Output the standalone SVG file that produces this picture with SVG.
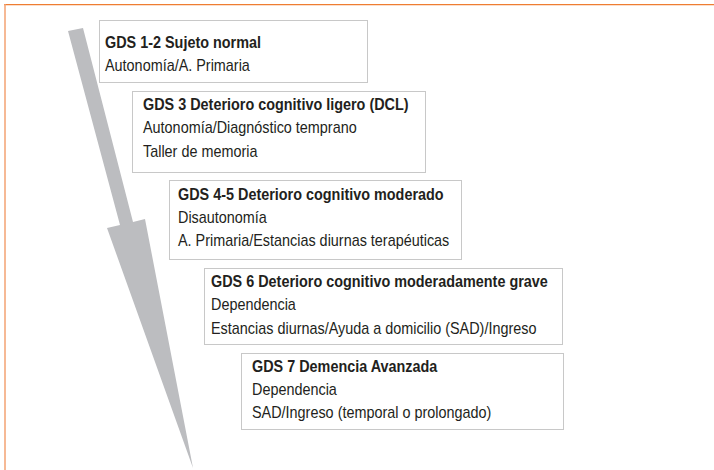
<svg xmlns="http://www.w3.org/2000/svg" width="714" height="470" viewBox="0 0 714 470">
<style>
.box{fill:#ffffff;stroke:#c8c8c8;stroke-width:1}
.t{font-family:"Liberation Sans",Arial,sans-serif;font-size:16px;fill:#231f20}
.b{font-weight:bold}
</style>
<rect x="0" y="0" width="714" height="470" fill="#ffffff"/>
<g id="frame">
<line x1="4" y1="4.6" x2="714" y2="4.6" stroke="#ee7d32" stroke-width="1.3"/>
<line x1="5" y1="4" x2="5" y2="470" stroke="#f3a272" stroke-width="1.5"/>
</g>
<g id="connectors">
<polygon points="68,31 83,28 133,222 145,219 193,468 107,228 120,225" fill="#bcbdc0"/>
</g>
<g id="gds12">
<rect class="box" x="99.5" y="20.5" width="268" height="62"/>
<text class="t b" transform="translate(105 48) scale(0.9 1)">GDS 1-2 Sujeto normal</text>
<text class="t" transform="translate(105 71) scale(0.9 1)">Autonomía/A. Primaria</text>
</g>
<g id="gds3">
<rect class="box" x="132.5" y="91.5" width="293" height="81"/>
<text class="t b" transform="translate(143 110) scale(0.9 1)">GDS 3 Deterioro cognitivo ligero (DCL)</text>
<text class="t" transform="translate(143 133) scale(0.9 1)">Autonomía/Diagnóstico temprano</text>
<text class="t" transform="translate(143 157) scale(0.9 1)">Taller de memoria</text>
</g>
<g id="gds45">
<rect class="box" x="169.5" y="180.5" width="292" height="79"/>
<text class="t b" transform="translate(178 200) scale(0.9 1)">GDS 4-5 Deterioro cognitivo moderado</text>
<text class="t" transform="translate(178 223) scale(0.9 1)">Disautonomía</text>
<text class="t" transform="translate(178 246) scale(0.9 1)">A. Primaria/Estancias diurnas terapéuticas</text>
</g>
<g id="gds6">
<rect class="box" x="204.5" y="268.5" width="358" height="76"/>
<text class="t b" transform="translate(211 287) scale(0.9 1)">GDS 6 Deterioro cognitivo moderadamente grave</text>
<text class="t" transform="translate(211 310) scale(0.9 1)">Dependencia</text>
<text class="t" transform="translate(211 334) scale(0.9 1)">Estancias diurnas/Ayuda a domicilio (SAD)/Ingreso</text>
</g>
<g id="gds7">
<rect class="box" x="241.5" y="353.5" width="322" height="76"/>
<text class="t b" transform="translate(252 372) scale(0.9 1)">GDS 7 Demencia Avanzada</text>
<text class="t" transform="translate(252 395) scale(0.9 1)">Dependencia</text>
<text class="t" transform="translate(252 418) scale(0.9 1)">SAD/Ingreso (temporal o prolongado)</text>
</g>
</svg>
